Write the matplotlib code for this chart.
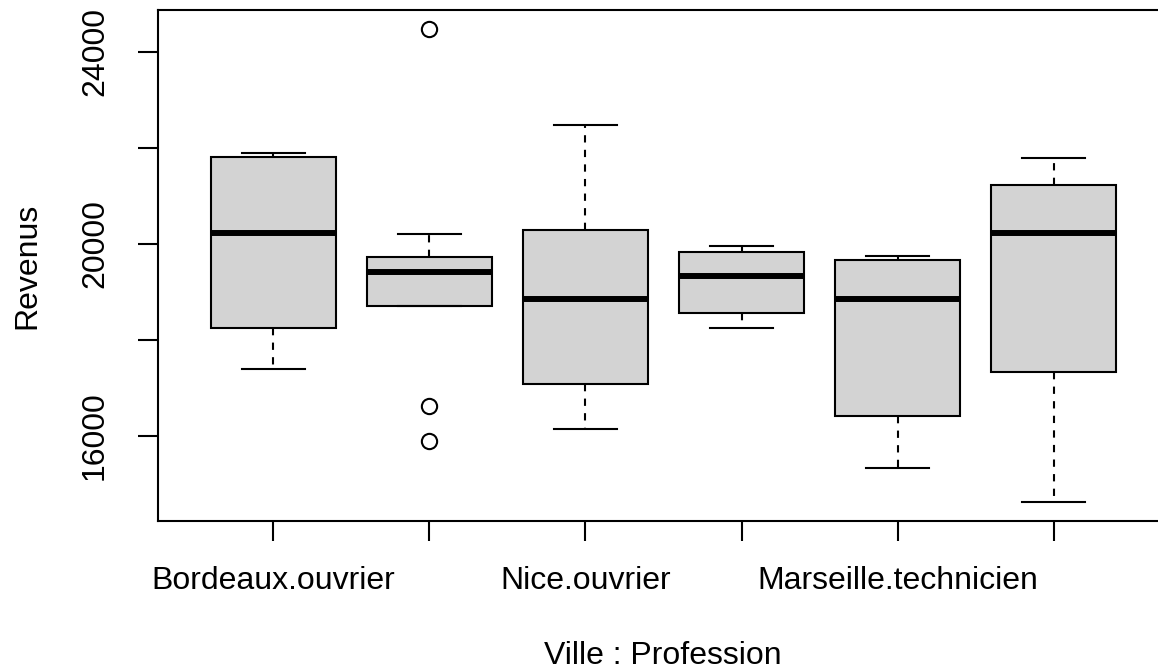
import matplotlib
matplotlib.use('Agg')
import matplotlib.pyplot as plt

plt.rcParams['font.family'] = ['Liberation Sans', 'DejaVu Sans']

categories = ["Bordeaux.ouvrier", "Marseille.ouvrier", "Nice.ouvrier",
              "Bordeaux.technicien", "Marseille.technicien", "Nice.technicien"]
shown_labels = ["Bordeaux.ouvrier", "", "Nice.ouvrier", "", "Marseille.technicien", ""]
whislo = [17396, 18708, 16146, 18250, 15333, 14625]
q1 = [18250, 18708, 17083, 18563, 16417, 17333]
med = [20229, 19417, 18854, 19333, 18854, 20229]
q3 = [21812, 19729, 20292, 19833, 19667, 21229]
whishi = [21896, 20208, 22479, 19958, 19750, 21792]
fliers = [[], [24479, 16625, 15896], [], [], [], []]
yticks = [16000, 18000, 20000, 22000, 24000]
ytick_labels = ["16000", "", "20000", "", "24000"]

stats = []
for i, c in enumerate(categories):
    stats.append(dict(label=c, whislo=whislo[i], q1=q1[i], med=med[i],
                      q3=q3[i], whishi=whishi[i], fliers=fliers[i]))

W, H = 1158, 670
fig = plt.figure(figsize=(W / 100, H / 100), dpi=100)
# plot region extends slightly past the right edge of the figure, like the reference
ax = fig.add_axes([158 / W, 1 - 521 / H, (1169 - 158) / W, (521 - 10) / H])

lw = 1.5
positions = list(range(1, len(categories) + 1))
ax.bxp(stats, positions=positions, widths=0.8, capwidths=0.4, patch_artist=True,
       boxprops=dict(facecolor='#D3D3D3', edgecolor='black', linewidth=lw),
       medianprops=dict(color='black', linewidth=4.3, solid_capstyle='butt'),
       whiskerprops=dict(color='black', linewidth=lw, linestyle=(0, (3.5, 3.5))),
       capprops=dict(color='black', linewidth=lw),
       flierprops=dict(marker='o', markerfacecolor='none', markeredgecolor='black',
                       markersize=11, markeredgewidth=lw, linestyle='none'))

ax.set_xlim(0.26, 6.74)
ax.set_ylim(14229, 24875)
ax.set_xticks(positions)
ax.set_xticklabels(shown_labels)
ax.set_yticks(yticks)
ax.set_yticklabels(ytick_labels, rotation=90, va='center')
for s in ax.spines.values():
    s.set_linewidth(lw)
ax.tick_params(axis='both', length=14.5, width=lw, labelsize=23, color='black')
ax.tick_params(axis='x', pad=18)
ax.tick_params(axis='y', pad=20)

fig.text(27 / W, 1 - 265.5 / H, "Revenus", rotation=90, ha='center', va='center', fontsize=23)
fig.text(663 / W, 1 - 656 / H, "Ville : Profession", ha='center', va='center', fontsize=23)

fig.savefig('out.png', dpi=100)
